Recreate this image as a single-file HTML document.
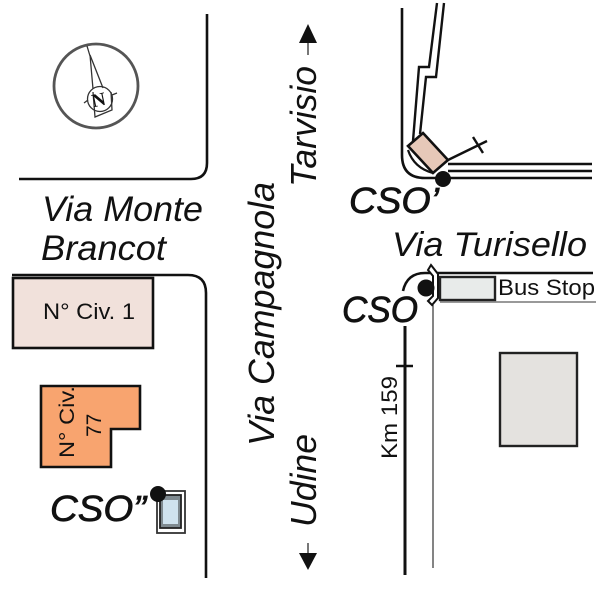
<!DOCTYPE html>
<html><head><meta charset="utf-8"><style>
html,body{margin:0;padding:0;background:#fff}
svg{display:block}
text{font-family:"Liberation Sans",sans-serif;fill:#111}
.i{font-style:italic}
.b{stroke:#111;stroke-width:.7}
</style></head><body>
<svg width="600" height="600" viewBox="0 0 600 600" xmlns="http://www.w3.org/2000/svg">
<g fill="none" stroke="#111" stroke-width="2.6">
<path d="M207 14V163Q207 179 191 179H19"/>
<path d="M12 275H188Q206 275 206 293V578"/>
<path d="M402 8V155Q402 178 425 178H592"/>
<path d="M448 164H592M448 171H592" />
<path d="M437 3L429 67H419L413 141" stroke-width="2.4"/>
<path d="M444 3L436 77H426L420 134" stroke-width="2.4"/>
<path d="M408 150Q414 168 433 173" stroke-width="2.2"/>
<path d="M448 160L487 141M473 137L483 153" stroke-width="2.4"/>
<path d="M403 291Q407 273 425 273H593"/>
<path d="M405 326V575" stroke-width="3"/>
<path d="M396 366H413" stroke-width="2.4"/>
</g>
<path d="M440 302H596" stroke="#999" stroke-width="2"/>
<path d="M433 305V568" stroke="#333" stroke-width="1.2"/>
<path d="M431 265L438 274V298L432 305L428 301L433 296V276L428 270Z" fill="#fff" stroke="#111" stroke-width="2"/>

<!-- compass -->
<circle cx="96" cy="86" r="42" fill="#fff" stroke="#555" stroke-width="2.8"/>
<g fill="none" stroke="#333" stroke-width="1.3">
<path d="M87 46L90 56M90 55L93 89M90 55L103 88"/>
<circle cx="100" cy="99" r="12.5"/>
<path d="M93 92L95 117L112 110L111 92M84 103L88 100M112 95L117 93"/>
</g>
<text transform="translate(100 106) rotate(-12)" font-size="19" font-weight="bold" text-anchor="middle" style="font-family:'Liberation Serif',serif">N</text>

<!-- buildings -->
<rect x="13" y="278" width="140" height="70" fill="#f1e1db" stroke="#111" stroke-width="2.6"/>
<text x="89" y="319" font-size="22" text-anchor="middle" textLength="92" lengthAdjust="spacingAndGlyphs">N° Civ. 1</text>
<path d="M41 386H140V429H111V467H41Z" fill="#f8a46f" stroke="#111" stroke-width="2.6"/>
<text transform="translate(74 458) rotate(-90)" font-size="21" textLength="72" lengthAdjust="spacingAndGlyphs">N° Civ.</text>
<text transform="translate(101 437) rotate(-90)" font-size="21">77</text>

<rect x="157" y="491" width="28" height="42" fill="#fff" stroke="#333" stroke-width="1.8"/>
<rect x="160" y="495" width="21" height="33" fill="#7f8a90" stroke="#222" stroke-width="1.8"/>
<rect x="163" y="500" width="15" height="24" fill="#cfe2ee"/>
<circle cx="158" cy="494" r="8" fill="#111"/>

<rect x="440" y="277" width="55" height="23" fill="#e8ebea" stroke="#222" stroke-width="2.4"/>
<rect x="500" y="353" width="77" height="93" fill="#e4e2df" stroke="#222" stroke-width="2.4"/>
<path d="M423 133L448 160L433 173L408 146Z" fill="#e6c8b8" stroke="#111" stroke-width="2.6"/>
<circle cx="443" cy="179" r="8" fill="#111"/>
<circle cx="426" cy="288" r="8.5" fill="#111"/>

<!-- arrows -->
<path d="M308 24L317 43H299Z" fill="#111"/><path d="M308 43V55" stroke="#777" stroke-width="2"/>
<path d="M308 570L317 553H299Z" fill="#111"/><path d="M308 543V553" stroke="#777" stroke-width="2"/>

<!-- labels -->
<text class="i" x="42" y="221" font-size="35" textLength="161" lengthAdjust="spacingAndGlyphs">Via Monte</text>
<text class="i" x="41" y="260" font-size="35" textLength="125" lengthAdjust="spacingAndGlyphs">Brancot</text>
<text class="i" x="392" y="256" font-size="34" textLength="195" lengthAdjust="spacingAndGlyphs">Via Turisello</text>
<text class="i" transform="translate(316 187) rotate(-90)" font-size="36" textLength="121" lengthAdjust="spacingAndGlyphs">Tarvisio</text>
<text class="i" transform="translate(274 446) rotate(-90)" font-size="36" textLength="264" lengthAdjust="spacingAndGlyphs">Via Campagnola</text>
<text class="i" transform="translate(316 527) rotate(-90)" font-size="36" textLength="93" lengthAdjust="spacingAndGlyphs">Udine</text>
<text class="i b" x="349" y="213" font-size="36" textLength="90" lengthAdjust="spacingAndGlyphs">CSO’</text>
<text class="i b" x="342" y="322" font-size="36" textLength="76" lengthAdjust="spacingAndGlyphs">CSO</text>
<text class="i b" x="50" y="521" font-size="36" textLength="96" lengthAdjust="spacingAndGlyphs">CSO”</text>
<text x="498" y="295" font-size="22" textLength="97" lengthAdjust="spacingAndGlyphs">Bus Stop</text>
<text transform="translate(397 459) rotate(-90)" font-size="22" textLength="83" lengthAdjust="spacingAndGlyphs">Km 159</text>
</svg>
</body></html>
